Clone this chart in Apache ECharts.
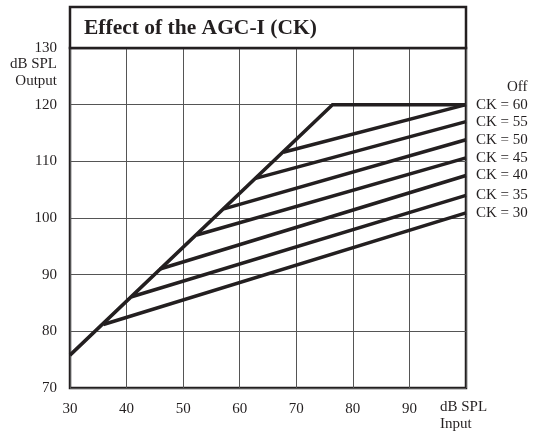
<!DOCTYPE html>
<html>
<head>
<meta charset="utf-8">
<script src="https://cdn.jsdelivr.net/npm/echarts@6/dist/echarts.min.js"></script>
<style>
html,body{margin:0;padding:0;background:#fff;}
#c{width:547px;height:432px;}
</style>
</head>
<body>
<div id="c"></div>
<script>
const titleText = 'Effect of the AGC-I (CK)';
const xTicks = [30, 40, 50, 60, 70, 80, 90, 100];
const yTicks = [70, 80, 90, 100, 110, 120, 130];
const xAxisTitle = 'dB SPL\nInput';
const yAxisTitle = 'dB SPL\nOutput';

// "Off" curve: linear segment, then flat at 120
const offInput  = [30, 76.4, 100];
const offOutput = [75.8, 120, 120];

// Compression curves: knee point on the linear line, then endpoint at 100 dB input
const ckNames   = ['CK = 60', 'CK = 55', 'CK = 50', 'CK = 45', 'CK = 40', 'CK = 35', 'CK = 30'];
const kneeInput = [67.7, 62.8, 57.2, 52.4, 45.9, 40.9, 35.9];
const kneeOut   = [111.6, 107.0, 101.6, 97.0, 91.0, 86.1, 81.2];
const endInput  = [100, 100, 100, 100, 100, 100, 100];
const endOut    = [120, 117, 113.8, 110.6, 107.5, 104, 100.9];

const ink = '#231f20';
const serif = '"Liberation Serif", "Times New Roman", serif';

const chart = echarts.init(document.getElementById('c'));

const series = [];
series.push({
  name: 'Off',
  type: 'line',
  data: offInput.map((x, i) => [x, offOutput[i]]),
  symbol: 'none',
  lineStyle: { color: ink, width: 3.5, join: 'miter' },
  z: 5,
  endLabel: {
    show: true,
    formatter: '{a}',
    offset: [33, -18],
    color: ink,
    fontFamily: serif,
    fontSize: 15
  }
});
ckNames.forEach((n, i) => {
  series.push({
    name: n,
    type: 'line',
    data: [[kneeInput[i], kneeOut[i]], [endInput[i], endOut[i]]],
    symbol: 'none',
    lineStyle: { color: ink, width: 3.5 },
    z: 4,
    endLabel: {
      show: true,
      formatter: '{a}',
      distance: 10,
      color: ink,
      fontFamily: serif,
      fontSize: 15
    }
  });
});

const option = {
  animation: false,
  backgroundColor: '#fff',
  grid: {
    left: 70, top: 48, right: 81, bottom: 44,
    show: true, borderColor: ink, borderWidth: 2.5, backgroundColor: 'transparent'
  },
  xAxis: {
    type: 'value',
    min: xTicks[0], max: xTicks[xTicks.length - 1], interval: 10,
    axisLine: { show: false },
    axisTick: { show: false },
    splitLine: { show: true, lineStyle: { color: '#555', width: 1 } },
    axisLabel: {
      margin: 14,
      color: ink, fontFamily: serif, fontSize: 15,
      formatter: v => (v === xTicks[xTicks.length - 1] ? '' : String(v))
    }
  },
  yAxis: {
    type: 'value',
    min: yTicks[0], max: yTicks[yTicks.length - 1], interval: 10,
    axisLine: { show: false },
    axisTick: { show: false },
    splitLine: { show: true, lineStyle: { color: '#555', width: 1 } },
    axisLabel: {
      margin: 13,
      color: ink, fontFamily: serif, fontSize: 15
    }
  },
  graphic: [
    {
      type: 'rect',
      shape: { x: 70, y: 7, width: 396, height: 41 },
      style: { fill: '#fff', stroke: ink, lineWidth: 2.5 },
      z: 10
    },
    {
      type: 'text',
      x: 84, y: 28,
      style: {
        text: titleText, fill: ink, font: 'bold 21.5px ' + serif,
        textVerticalAlign: 'middle'
      },
      z: 11
    },
    {
      type: 'text',
      x: 57, y: 56,
      style: {
        text: yAxisTitle, fill: ink, font: '15px ' + serif,
        textAlign: 'right', lineHeight: 17
      },
      z: 11
    },
    {
      type: 'text',
      x: 440, y: 399,
      style: {
        text: xAxisTitle, fill: ink, font: '15px ' + serif,
        textAlign: 'left', lineHeight: 17
      },
      z: 11
    }
  ],
  series: series
};
chart.setOption(option);
</script>
</body>
</html>
